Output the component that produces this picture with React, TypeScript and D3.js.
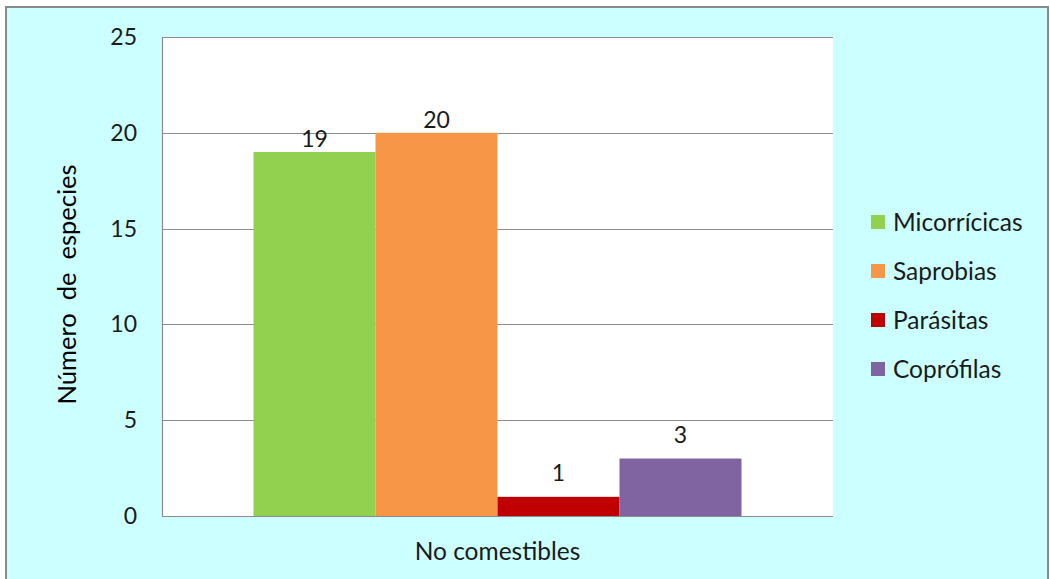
import React from "react";
import * as d3 from "d3";

// Number of species per ecological group, non-edible category
const categories = ["No comestibles"];
const seriesNames = ["Micorrícicas", "Saprobias", "Parásitas", "Coprófilas"];
const seriesColors = ["#92D050", "#F79646", "#C00000", "#8064A2"];
const seriesValues = [19, 20, 1, 3];
const yTicks = [0, 5, 10, 15, 20, 25];

const W = 1050;
const H = 579;
const plot = { left: 162, right: 833, top: 37, bottom: 516 };
const FONT = "Lato, Carlito, Calibri, 'Open Sans', sans-serif";

export default function App() {
  const y = d3.scaleLinear().domain([0, 25]).range([plot.bottom, plot.top]);
  const x0 = d3
    .scaleBand<string>()
    .domain(categories)
    .range([plot.left, plot.right])
    .paddingInner(0)
    .paddingOuter(0.1875);
  const x1 = d3
    .scaleBand<string>()
    .domain(seriesNames)
    .range([0, x0.bandwidth()])
    .padding(0);

  return (
    <svg
      width={W}
      height={H}
      style={{ position: "absolute", left: 0, top: 0, display: "block" }}
      fontFamily={FONT}
    >
      <rect x={0} y={0} width={W} height={H} fill="#ffffff" />
      <rect x={6} y={7} width={1042} height={H + 10} fill="#CCFFFF" stroke="#8a8a8a" strokeWidth={2} />
      <rect
        x={plot.left}
        y={plot.top}
        width={plot.right - plot.left}
        height={plot.bottom - plot.top}
        fill="#ffffff"
      />
      {/* gridlines */}
      {yTicks.map((t) => (
        <line
          key={t}
          x1={plot.left}
          x2={plot.right}
          y1={Math.round(y(t)) + 0.5}
          y2={Math.round(y(t)) + 0.5}
          stroke="#8c8c8c"
          strokeWidth={1.2}
        />
      ))}
      {/* bars */}
      {categories.map((c) => (
        <g key={c} transform={`translate(${x0(c)},0)`}>
          {seriesNames.map((s, i) => (
            <rect
              key={s}
              x={x1(s)}
              y={y(seriesValues[i])}
              width={x1.bandwidth()}
              height={y(0) - y(seriesValues[i])}
              fill={seriesColors[i]}
            />
          ))}
          {seriesNames.map((s, i) => (
            <text
              key={s + "-l"}
              x={(x1(s) as number) + x1.bandwidth() / 2}
              y={y(seriesValues[i]) - (seriesValues[i] < 10 ? 16 : 5)}
              textAnchor="middle"
              fontSize={23}
              fill="#1a1a1a"
            >
              {seriesValues[i]}
            </text>
          ))}
        </g>
      ))}
      {/* axis lines */}
      <line x1={plot.left + 0.5} x2={plot.left + 0.5} y1={plot.top} y2={plot.bottom} stroke="#8c8c8c" strokeWidth={1.2} />
      <line x1={plot.left} x2={plot.right} y1={plot.bottom + 0.5} y2={plot.bottom + 0.5} stroke="#8c8c8c" strokeWidth={1.2} />
      {/* y tick labels */}
      {yTicks.map((t) => (
        <text
          key={"t" + t}
          x={137}
          y={y(t)}
          dy="0.35em"
          textAnchor="end"
          fontSize={23}
          fill="#1a1a1a"
        >
          {t}
        </text>
      ))}
      {/* category label */}
      {categories.map((c) => (
        <text
          key={"c" + c}
          x={(x0(c) as number) + x0.bandwidth() / 2}
          y={551}
          dy="0.35em"
          textAnchor="middle"
          fontSize={24.5}
          fill="#1a1a1a"
        >
          {c}
        </text>
      ))}
      {/* y axis title */}
      <text
        transform={`translate(67,${(plot.top + plot.bottom) / 2 + 8}) rotate(-90)`}
        textAnchor="middle"
        dy="0.35em"
        fontSize={25.5}
        fill="#000"
        style={{ whiteSpace: "pre" }}
      >
        {"Número  de  especies"}
      </text>
      {/* legend */}
      {seriesNames.map((s, i) => {
        const cy = 222 + i * 49;
        return (
          <g key={"lg" + s}>
            <rect x={871} y={cy - 7} width={14} height={14} fill={seriesColors[i]} />
            <text x={893} y={cy} dy="0.35em" fontSize={24.5} fill="#1a1a1a">
              {s}
            </text>
          </g>
        );
      })}
    </svg>
  );
}
